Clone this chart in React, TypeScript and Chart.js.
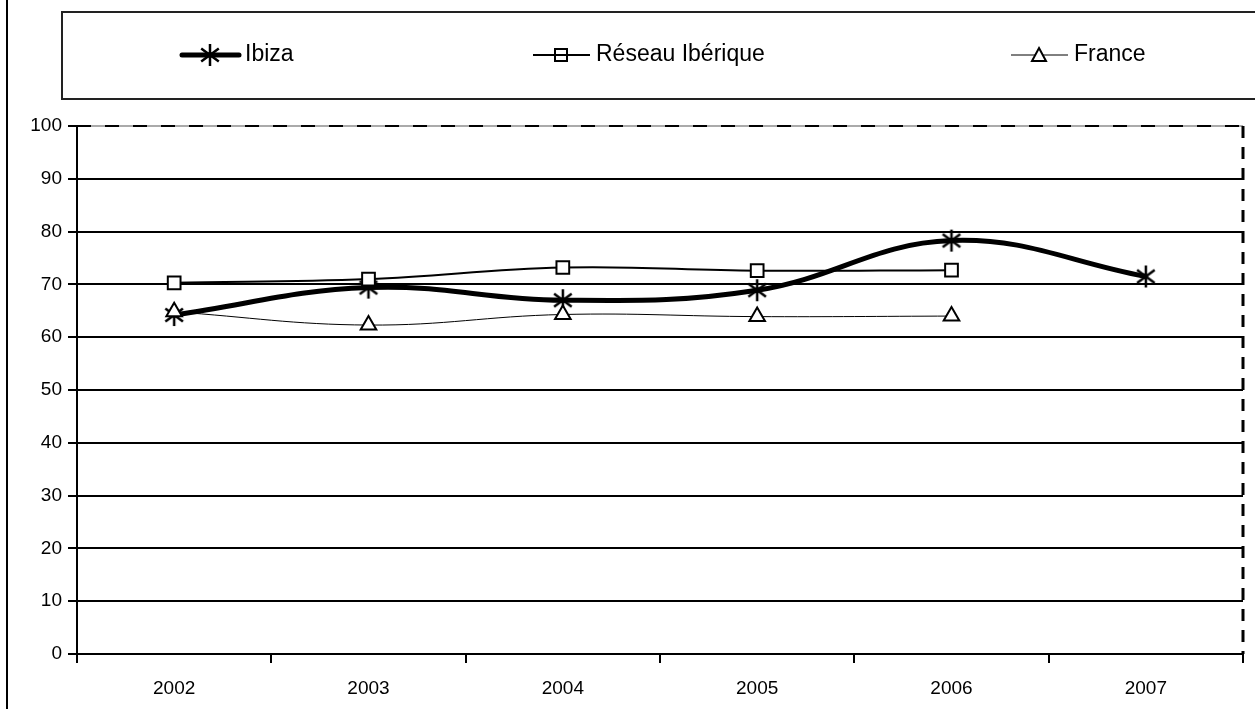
import React, { useEffect, useRef } from "react";
import { Chart, registerables } from "chart.js";

Chart.register(...registerables);

const years = ["2002", "2003", "2004", "2005", "2006", "2007"];
const ibiza = [64.2, 69.4, 67.0, 68.9, 78.3, 71.5];
const reseau = [70.3, 71.0, 73.2, 72.6, 72.7, null];
const france = [64.8, 62.3, 64.3, 63.9, 64.0, null];
const legendLabels = ["Ibiza", "Réseau Ibérique", "France"];

const FONT = "'Liberation Sans', Arial, sans-serif";

function makeStar(size: number, lw: number): HTMLCanvasElement {
  const c = document.createElement("canvas");
  c.width = size;
  c.height = size;
  const ctx = c.getContext("2d")!;
  const r = size / 2 - 1;
  const cx = size / 2;
  ctx.strokeStyle = "#000";
  ctx.lineWidth = lw;
  ctx.beginPath();
  ctx.moveTo(cx, cx - r);
  ctx.lineTo(cx, cx + r);
  const d = r * 0.8;
  ctx.moveTo(cx - d, cx - d * 0.75);
  ctx.lineTo(cx + d, cx + d * 0.75);
  ctx.moveTo(cx + d, cx - d * 0.75);
  ctx.lineTo(cx - d, cx + d * 0.75);
  ctx.stroke();
  return c;
}

export default function App() {
  const ref = useRef<HTMLCanvasElement>(null);

  useEffect(() => {
    document.body.style.margin = "0";
    const star = makeStar(24, 2.5);

    const decor = {
      id: "decor",
      beforeDraw(chart: any) {
        const ctx = chart.ctx;
        ctx.save();
        ctx.fillStyle = "#fff";
        ctx.fillRect(0, 0, chart.width, chart.height);
        ctx.strokeStyle = "#000";
        ctx.lineWidth = 2;
        ctx.beginPath();
        ctx.moveTo(7, 0);
        ctx.lineTo(7, chart.height);
        ctx.stroke();
        ctx.strokeStyle = "#222";
        ctx.lineWidth = 2;
        ctx.strokeRect(62, 12, 1300, 87);
        ctx.restore();
      },
      afterDraw(chart: any) {
        const ctx = chart.ctx;
        const a = chart.chartArea;
        ctx.save();
        ctx.strokeStyle = "#aaa";
        ctx.lineWidth = 2;
        ctx.beginPath();
        ctx.moveTo(a.left, a.top);
        ctx.lineTo(a.right, a.top);
        ctx.stroke();
        ctx.strokeStyle = "#000";
        ctx.setLineDash([14, 14]);
        ctx.beginPath();
        ctx.moveTo(a.left, a.top);
        ctx.lineTo(a.right, a.top);
        ctx.stroke();
        ctx.lineWidth = 3;
        ctx.setLineDash([12, 9]);
        ctx.beginPath();
        ctx.moveTo(a.right, a.top);
        ctx.lineTo(a.right, a.bottom);
        ctx.stroke();
        ctx.setLineDash([]);

        const items = [
          { x: 182, lw: 5, style: "star", text: legendLabels[0] },
          { x: 533, lw: 2, style: "rect", text: legendLabels[1] },
          { x: 1011, lw: 1, style: "tri", text: legendLabels[2] },
        ];
        const ly = 55;
        ctx.font = `23px ${FONT}`;
        ctx.textBaseline = "middle";
        for (const it of items) {
          ctx.strokeStyle = "#000";
          ctx.lineWidth = it.lw;
          ctx.lineCap = it.lw > 3 ? "round" : "butt";
          ctx.beginPath();
          ctx.moveTo(it.x, ly);
          ctx.lineTo(it.x + 57, ly);
          ctx.stroke();
          const cx = it.x + 28;
          ctx.lineCap = "butt";
          if (it.style === "star") {
            ctx.drawImage(star, cx - 12, ly - 12);
          } else if (it.style === "rect") {
            ctx.lineWidth = 2;
            ctx.strokeRect(cx - 6, ly - 6, 12, 12);
          } else {
            ctx.lineWidth = 2;
            ctx.fillStyle = "#fff";
            ctx.beginPath();
            ctx.moveTo(cx, ly - 7);
            ctx.lineTo(cx + 7, ly + 6);
            ctx.lineTo(cx - 7, ly + 6);
            ctx.closePath();
            ctx.fill();
            ctx.stroke();
          }
          ctx.fillStyle = "#000";
          ctx.fillText(it.text, it.x + 63, ly);
        }
        ctx.restore();
      },
    };

    const chart = new Chart(ref.current!, {
      type: "line",
      data: {
        labels: years,
        datasets: [
          {
            label: legendLabels[2],
            data: france,
            borderColor: "#000",
            borderWidth: 1,
            tension: 0.4,
            pointStyle: "triangle",
            pointRadius: 9,
            pointBorderWidth: 2,
            pointBorderColor: "#000",
            pointBackgroundColor: "#fff",
          },
          {
            label: legendLabels[1],
            data: reseau,
            borderColor: "#000",
            borderWidth: 2,
            tension: 0.4,
            pointStyle: "rect",
            pointRadius: 9,
            pointBorderWidth: 2,
            pointBorderColor: "#000",
            pointBackgroundColor: "#fff",
          },
          {
            label: legendLabels[0],
            data: ibiza,
            borderColor: "#000",
            borderWidth: 5,
            tension: 0.4,
            pointStyle: star as any,
            pointRadius: 12,
          },
        ],
      },
      options: {
        animation: false,
        responsive: false,
        maintainAspectRatio: false,
        layout: { autoPadding: false, padding: { top: 126, left: 0, right: 12, bottom: 0 } },
        plugins: {
          legend: { display: false },
          tooltip: { enabled: false },
        },
        scales: {
          x: {
            type: "category",
            offset: true,
            afterFit: (s: any) => {
              s.height = 55;
              s.paddingLeft = 0;
              s.paddingRight = 0;
            },
            grid: {
              offset: true,
              drawOnChartArea: false,
              drawTicks: true,
              tickLength: 9,
              color: "#000",
              lineWidth: 2,
            },
            border: { display: true, color: "#000", width: 2 },
            ticks: {
              color: "#000",
              font: { family: FONT, size: 19 },
              padding: 14,
            },
          },
          y: {
            min: 0,
            max: 100,
            afterFit: (s: any) => {
              s.width = 77;
              s.paddingTop = 0;
              s.paddingBottom = 0;
            },
            grid: {
              color: (c: any) => (c.tick && c.tick.value === 100 ? "rgba(0,0,0,0)" : "#000"),
              tickColor: "#000",
              lineWidth: 2,
              tickLength: 9,
            },
            border: { display: true, color: "#000", width: 2 },
            ticks: {
              stepSize: 10,
              color: "#000",
              font: { family: FONT, size: 19 },
              padding: 6,
            },
          },
        },
      },
      plugins: [decor],
    });
    return () => chart.destroy();
  }, []);

  return (
    <div style={{ position: "absolute", left: 0, top: 0, width: 1255, height: 709 }}>
      <canvas ref={ref} width={1255} height={709} style={{ width: 1255, height: 709 }} />
    </div>
  );
}
